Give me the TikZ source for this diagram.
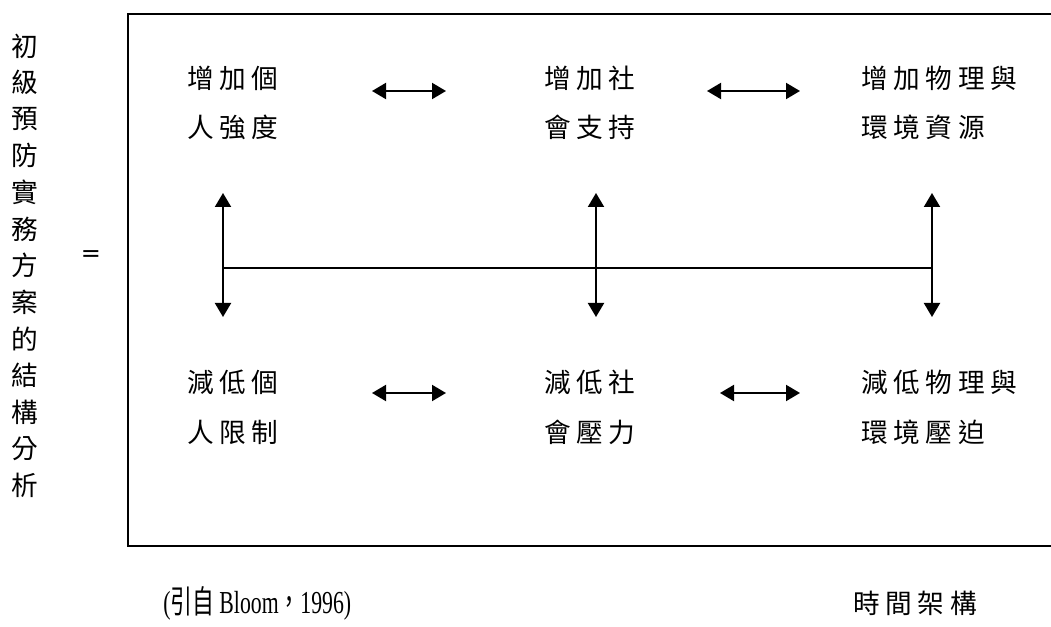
\documentclass[tikz,border=0pt]{standalone}
\usepackage{fontspec}
\setmainfont{Liberation Serif}
\newfontfamily\cjk[LetterSpace=21]{Noto Sans CJK TC}
\newfontfamily\cjkplain{Noto Sans CJK TC}
\newfontfamily\eqfont{DejaVu Sans}
\usetikzlibrary{arrows.meta}
\tikzset{
  lbl/.style={inner sep=0pt, anchor=west, font=\fontsize{20pt}{20pt}\cjk},
  vch/.style={inner sep=0pt, font=\fontsize{20pt}{20pt}\cjkplain},
  dbl/.style={line width=1.5pt, {Triangle[length=10.5pt,width=12pt]}-{Triangle[length=10.5pt,width=12pt]}},
  axis/.style={line width=1.5pt},
  frame/.style={line width=1.9pt}
}
\begin{document}
\begin{tikzpicture}[x=0.75pt,y=-0.75pt]
\useasboundingbox (0,0) rectangle (1051,627);
% frame
\draw[frame] (1051,14) -- (128,14) -- (128,546) -- (1051,546);
% left vertical title
\foreach \c [count=\i] in {初,級,預,防,實,務,方,案,的,結,構,分,析}
  \node[vch] (v\i) at (25,{46+36.6*(\i-1)}) {\c};
\node[inner sep=0pt, font=\fontsize{18pt}{18pt}\eqfont] (eq) at (91,256) {=};
% top texts
\node[lbl] (t1a) at (187,78) {增加個};
\node[lbl] (t1b) at (187,127) {人強度};
\node[lbl] (t2a) at (544,78) {增加社};
\node[lbl] (t2b) at (544,127) {會支持};
\node[lbl] (t3a) at (861,78) {增加物理與};
\node[lbl] (t3b) at (861,127) {環境資源};
% bottom texts
\node[lbl] (b1a) at (187,382) {減低個};
\node[lbl] (b1b) at (187,432) {人限制};
\node[lbl] (b2a) at (544,382) {減低社};
\node[lbl] (b2b) at (544,432) {會壓力};
\node[lbl] (b3a) at (861,382) {減低物理與};
\node[lbl] (b3b) at (861,432) {環境壓迫};
% horizontal arrows
\coordinate (ha1) at (372,91);  \coordinate (hb1) at (446,91);
\coordinate (ha2) at (707,91);  \coordinate (hb2) at (800,91);
\coordinate (ha3) at (372,393); \coordinate (hb3) at (446,393);
\coordinate (ha4) at (720,393); \coordinate (hb4) at (800,393);
\draw[dbl] (ha1) -- (hb1);
\draw[dbl] (ha2) -- (hb2);
\draw[dbl] (ha3) -- (hb3);
\draw[dbl] (ha4) -- (hb4);
% axis
\coordinate (l) at (223,268);
\coordinate (r) at (932,268);
\draw[axis] (l) -- (r);
% vertical arrows
\coordinate (va1) at (223,193); \coordinate (vb1) at (223,317);
\coordinate (va2) at (596,193); \coordinate (vb2) at (596,317);
\coordinate (va3) at (932,193); \coordinate (vb3) at (932,317);
\draw[dbl] (va1) -- (vb1);
\draw[dbl] (va2) -- (vb2);
\draw[dbl] (va3) -- (vb3);
% footer
\node[inner sep=0pt, anchor=west, font=\fontsize{24pt}{24pt}\selectfont] (cite) at (163,603) {\scalebox{0.68}[1]{({\cjkplain 引自} Bloom{\cjkplain ，}1996)}};
\node[lbl] (tf) at (853,603) {時間架構};
\end{tikzpicture}
\end{document}
